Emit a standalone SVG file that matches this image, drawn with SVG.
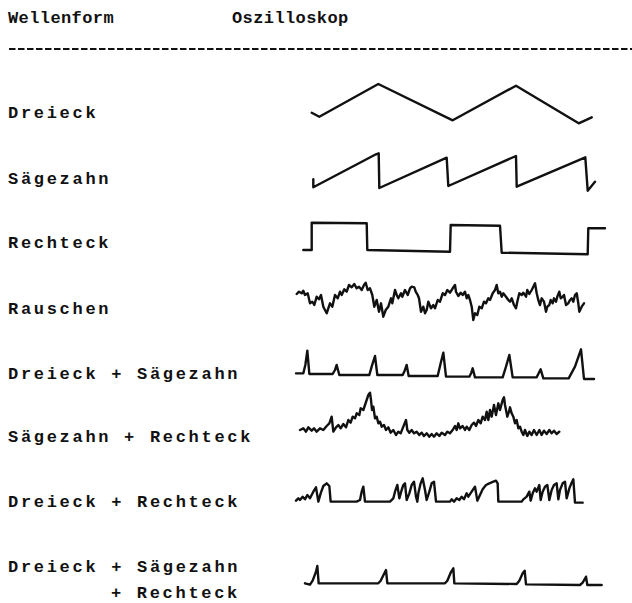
<svg xmlns="http://www.w3.org/2000/svg" width="632" height="603" viewBox="0 0 632 603">
<style>
.hd{font-family:"Liberation Mono","DejaVu Sans Mono",monospace;font-weight:bold;font-size:17px;letter-spacing:0.4px;fill:#111}
.lb{font-family:"Liberation Mono","DejaVu Sans Mono",monospace;font-weight:bold;font-size:17px;letter-spacing:2.7px;fill:#111}
.w{fill:none;stroke:#111;stroke-width:2.4;stroke-linejoin:round;stroke-linecap:round}
.ws{fill:none;stroke:#111;stroke-width:7.2;stroke-linejoin:round;stroke-linecap:round}
</style>
<rect width="632" height="603" fill="#fff"/>
<g id="header">
<text class="hd" x="8" y="23">Wellenform</text>
<text class="hd" x="232" y="23">Oszilloskop</text>
<line x1="9" y1="49" x2="632" y2="49" stroke="#111" stroke-width="2" stroke-dasharray="6.5 2.5"/>
</g>
<g id="row-dreieck">
<text class="lb" x="8" y="118">Dreieck</text>
<polyline class="w" points="311.7,112.7 319.3,116.7 378.3,84 452.7,120.3 516,85.7 578.7,123.3 591.7,117.3"/>
</g>
<g id="row-saegezahn">
<text class="lb" x="8" y="184">Sägezahn</text>
<polyline class="w" points="313.3,179.3 313.3,187.3 376,154.3 378.7,153.3 379.3,188 446.7,157.7 448.3,186 516,156 516.7,186.7 585.3,157.3 587.7,190.7 595,181.7"/>
</g>
<g id="row-rechteck">
<text class="lb" x="8" y="248">Rechteck</text>
<polyline class="w" points="303.3,250 311.7,250 311.7,222.7 366.7,223.3 367.3,250 450,251.7 450.7,225 500,225.7 501.7,252.7 587.7,254.3 588.3,228.3 605,228.3"/>
</g>
<g id="row-rauschen">
<text class="lb" x="8" y="314">Rauschen</text>
<polyline class="w" points="296.7,294 299,291.7 301.7,293.3 303.3,290.7 305,295 307.7,293.3 310,303.3 312.3,301.7 314.3,305 316.7,296.7 319,299.3 321,295 323.3,306.7 326.7,313.3 328.3,308.3 330,303.3 332.3,306.7 335,295 337.7,298.3 340,291.7 341.7,295 344.3,289.3 346.7,291.7 349,285 351.7,287.3 354.3,284 356.7,288.3 359,286.7 361.7,290 364,285 365.7,282.7 367.7,290 370,288.3 372.3,295 374.3,306.7 376.7,300 379,311.7 381,303.3 383.3,316.7 385.7,310 388.3,306.7 391,298.3 392.3,303.3 395,290 396.7,295 398.3,298.3 401,293.3 402.3,296.7 405,290 407.7,295 410,288.3 411.7,286.7 414.3,287.3 415.7,291.7 417.7,295 419,298.3 421,311.7 423.3,306.7 425,313.3 426.7,310 428.3,301.7 431,308.3 433.3,305 435,308.3 437.7,300 440,301.7 442.7,293.3 445,295 447.3,290 450,292.7 452.7,288.3 455,285 456,291.7 458.3,296 460.7,292.7 462.7,295 465,291.7 466.7,298.3 468.3,295 470,300 471.7,306.7 473.3,320 475,313.3 477.3,315 479.3,306.7 481.7,308.3 484,301.7 486,303.3 488.3,298.3 490,300 492.7,293.3 495,290 496.7,285 498.3,293.3 500,291.7 501.7,296.7 503.3,293.3 506,296.7 508.3,300 510,301.7 511.7,298.3 514,305 516,308.3 517.3,301.7 519.3,293.3 521.7,295 523.3,292.7 526,296.7 527.3,290 529.3,294 531.7,290 533.3,286.7 535,283.3 536.7,293.3 538.3,300 540,305 541.7,298.3 544,301.7 546,311.7 547.3,306.7 549.3,305 550.7,300 552.7,303.3 554,298.3 556,301.7 557.3,296.7 559.3,291.7 560.7,298.3 562.7,296.7 564,295 566,305 568.3,303.3 570,300 571.7,298.3 573.3,301.7 575,295 576.7,293.3 578.3,303.3 579.3,311.7 581.7,306.7 584,303.3"/>
</g>
<g id="row-dreieck-saegezahn">
<text class="lb" x="8" y="379">Dreieck + Sägezahn</text>
<polyline class="ws" transform="translate(290 320) scale(0.33333)" points="18,160 40,160 46,135 52,92 58,162 128,162 135,150 140,135 148,165 238,165 245,140 255,108 262,165 338,165 344,152 350,135 356,168 443,168 452,130 460,98 468,170 538,170 544,158 548,145 555,172 638,172 648,140 658,105 668,172 740,172 746,160 752,148 760,175 836,175 855,140 873,88 882,177 912,177"/>
</g>
<g id="row-saegezahn-rechteck">
<text class="lb" x="8" y="442">Sägezahn + Rechteck</text>
<polyline class="ws" transform="translate(290 320) scale(0.33333)" points="30,330 40,325 48,335 55,322 65,332 72,325 80,335 90,325 100,330 110,318 118,310 125,290 130,335 138,322 145,315 152,325 160,312 168,322 175,300 182,308 188,290 195,295 200,280 208,285 212,265 220,270 225,255 230,240 235,225 240,218 243,240 246,270 250,260 255,295 260,290 265,310 270,305 275,320 282,315 288,330 295,322 302,338 310,330 318,345 325,335 332,340 340,320 348,300 352,330 358,338 365,330 372,340 380,335 388,345 395,338 402,348 410,340 418,350 425,342 432,350 440,340 448,348 455,338 465,345 472,335 480,340 488,330 495,318 500,330 505,310 510,325 518,318 525,330 530,320 538,330 545,315 552,308 558,318 565,300 572,310 578,290 585,300 590,275 595,300 600,270 605,290 612,255 618,285 625,250 630,270 638,240 642,232 645,255 648,270 652,290 657,275 660,262 665,280 670,290 675,310 680,300 685,325 690,320 695,335 700,345 705,330 712,348 718,335 725,345 732,330 740,345 748,330 755,345 762,332 770,342 778,330 785,340 792,332 800,342 808,335"/>
</g>
<g id="row-dreieck-rechteck">
<text class="lb" x="8" y="507">Dreieck + Rechteck</text>
<polyline class="ws" transform="translate(290 450) scale(0.33333)" points="18,152 25,145 30,150 38,140 45,148 52,135 60,145 70,125 78,112 85,155 92,130 100,108 110,100 118,108 122,155 200,155 210,150 215,125 220,110 225,155 300,155 310,145 315,125 322,105 328,145 335,120 340,105 345,100 350,150 358,130 365,105 372,95 378,140 382,155 385,130 392,100 398,85 405,120 410,150 418,125 425,100 432,95 438,155 480,155 485,148 492,155 500,145 508,150 515,140 522,148 530,130 535,140 545,125 555,110 562,152 570,135 578,118 588,105 598,100 610,95 618,92 623,100 625,155 695,155 700,148 710,140 718,125 722,152 728,130 735,115 740,125 748,105 752,150 758,125 765,110 772,105 778,150 785,120 792,105 800,100 805,148 810,120 818,100 825,95 830,145 838,115 845,98 850,88 855,158 878,158"/>
</g>
<g id="row-dreieck-saegezahn-rechteck">
<text class="lb" x="8" y="572">Dreieck + Sägezahn</text>
<text class="lb" x="111" y="598">+ Rechteck</text>
<polyline class="ws" transform="translate(290 450) scale(0.33333)" points="45,400 60,404 68,392 78,365 82,348 86,400 265,400 272,392 282,372 288,360 292,400 465,400 472,392 482,368 490,355 493,400 680,402 688,392 698,370 704,362 708,403 870,405 878,398 885,386 888,380 892,405 935,405"/>
</g>
</svg>
